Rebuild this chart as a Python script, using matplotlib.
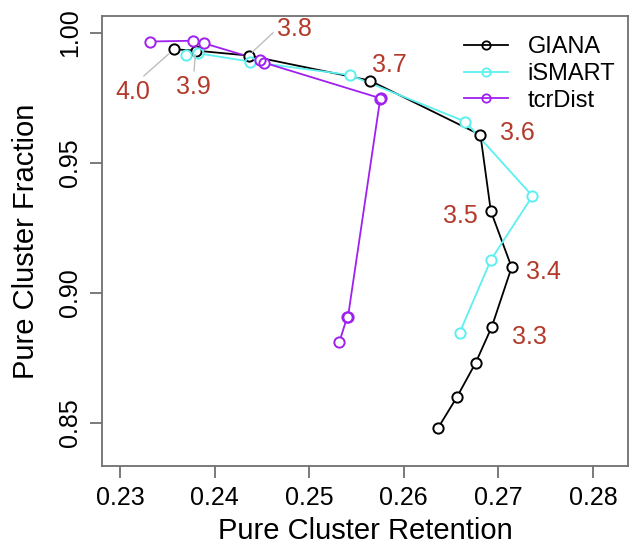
import matplotlib
matplotlib.use("Agg")
import matplotlib.pyplot as plt

plt.rcParams['font.family'] = ['Liberation Sans', 'DejaVu Sans']

# ---- data ----
giana_x = [0.2636, 0.2656, 0.2676, 0.2693, 0.2714, 0.2692, 0.2681, 0.2564, 0.2436, 0.2380, 0.2357]
giana_y = [0.8480, 0.8599, 0.8732, 0.8870, 0.9099, 0.9315, 0.9608, 0.9817, 0.9913, 0.9932, 0.9937]
thresholds = ["3.0", "3.1", "3.2", "3.3", "3.4", "3.5", "3.6", "3.7", "3.8", "3.9", "4.0"]

ismart_x = [0.2659, 0.2692, 0.2736, 0.2665, 0.2543, 0.2437, 0.2382, 0.2370]
ismart_y = [0.8847, 0.9127, 0.9373, 0.9659, 0.9838, 0.9890, 0.9922, 0.9915]

tcr_x = [0.2532, 0.2540, 0.2541, 0.2575, 0.2576, 0.2452, 0.2448, 0.2389, 0.2377, 0.2332]
tcr_y = [0.8813, 0.8906, 0.8908, 0.9745, 0.9748, 0.9886, 0.9896, 0.9960, 0.9970, 0.9967]

series_names = ["GIANA", "iSMART", "tcrDist"]
x_ticks = [0.23, 0.24, 0.25, 0.26, 0.27, 0.28]
y_ticks = [0.85, 0.90, 0.95, 1.00]

# ---- layout / style ----
colors = ["black", "#5CF0F0", "#A020F0"]
label_color = "#B33A2B"
# label offsets (points) for labelled GIANA thresholds, and leader settings
label_offsets = {
    "3.3": (27.1, -7.2), "3.4": (22.7, -3.2), "3.5": (-22.1, -3.6),
    "3.6": (26.4, 1.7), "3.7": (14.4, 11.3), "3.8": (32.9, 19.0),
    "3.9": (-1.4, -26.4), "4.0": (-29.7, -30.5),
}
leaders = {"3.8": ((0.0, 0.5), 3.5), "3.9": ((0.5, 1.0), 3.0), "4.0": ((0.7, 1.0), 5.0)}

fig = plt.figure(figsize=(6.39, 5.54), dpi=100)
ax = fig.add_axes([0.1596, 0.1588, 0.9828 - 0.1596, 0.9711 - 0.1588])

all_x = [giana_x, ismart_x, tcr_x]
all_y = [giana_y, ismart_y, tcr_y]
ms = 7.4
lw = 1.3

# lines
for xs, ys, c in zip(all_x, all_y, colors):
    ax.plot(xs, ys, color=c, lw=lw, zorder=2, solid_capstyle='butt')
# white knockouts (R type="b" gap)
for xs, ys in zip(all_x, all_y):
    ax.plot(xs, ys, ls='none', marker='o', ms=ms, mfc='white', mec='none', zorder=3)
# rings
for xs, ys, c in zip(all_x, all_y, colors):
    ax.plot(xs, ys, ls='none', marker='o', ms=ms, mfc='none', mec=c, mew=1.4, zorder=4)

# legend handles
handles = [plt.Line2D([], [], color=c, lw=lw, marker='o', ms=6, mfc='none', mec=c, mew=1.3)
           for c in colors]
ax.legend(handles, series_names, loc='upper left', bbox_to_anchor=(0.688, 0.955),
          frameon=False, fontsize=17, handlelength=1.85, handletextpad=0.85,
          labelspacing=0.2, borderpad=0, borderaxespad=0)

# threshold labels
for xv, yv, t in zip(giana_x, giana_y, thresholds):
    if t not in label_offsets:
        continue
    off = label_offsets[t]
    kw = {}
    if t in leaders:
        rel, shr = leaders[t]
        kw['arrowprops'] = dict(arrowstyle='-', color='#BDBDBD', lw=1.0,
                                relpos=rel, shrinkA=1, shrinkB=shr)
    ax.annotate(t, xy=(xv, yv), xytext=off, textcoords='offset points',
                ha='center', va='center', fontsize=18, color=label_color, zorder=5, **kw)

ax.set_xlim(0.2281, 0.2837)
ax.set_ylim(0.8335, 1.0065)
ax.set_xticks(x_ticks)
ax.set_xticklabels([f"{v:.2f}" for v in x_ticks])
ax.set_yticks(y_ticks)
ax.set_yticklabels([f"{v:.2f}" for v in y_ticks], rotation=90, va='center')

spine_c = "#707070"
for s in ax.spines.values():
    s.set_color(spine_c)
    s.set_linewidth(1.3)
ax.tick_params(axis='both', direction='out', length=8.5, width=1.3, color=spine_c,
               labelsize=18, labelcolor='black', pad=6)

ax.set_xlabel("Pure Cluster Retention", fontsize=21, labelpad=5)
ax.set_ylabel("Pure Cluster Fraction", fontsize=21, labelpad=13)

fig.savefig("out.png", dpi=100)
